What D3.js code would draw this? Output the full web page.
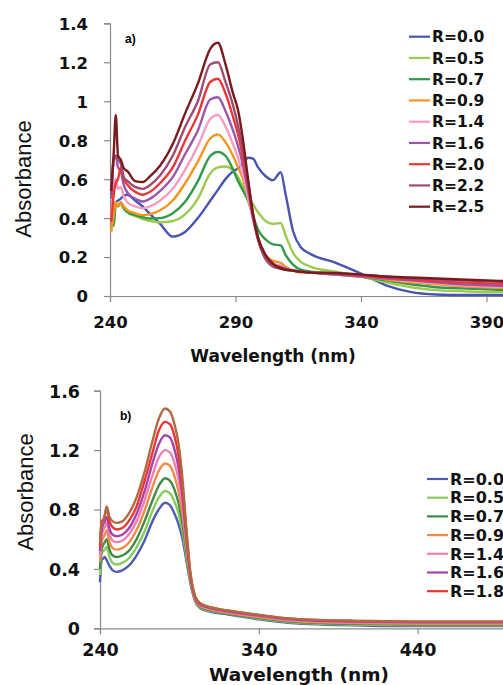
<!DOCTYPE html>
<html>
<head>
<meta charset="utf-8">
<script src="https://cdn.jsdelivr.net/npm/d3@7"></script>
<style>
  html, body { margin: 0; padding: 0; background: #fff; overflow: hidden; }
  svg { display: block; }
</style>
</head>
<body>
<svg id="chart" width="503" height="685"></svg>
<script>
// ---- panel a) ----
const aWavelengths = [240.5, 241.5, 242.3, 243.2, 244.3, 245.5, 247, 250, 253, 256, 260, 265, 270, 275, 280, 283, 286, 289, 291, 293, 295, 297, 299, 302, 305, 308, 310, 313, 316, 320, 330, 340, 350, 360, 370, 380, 390, 400];
const aNames = ["R=0.0", "R=0.5", "R=0.7", "R=0.9", "R=1.4", "R=1.6", "R=2.0", "R=2.2", "R=2.5"];
const aR00 = [0.42, 0.46, 0.48, 0.49, 0.50, 0.515, 0.52, 0.49, 0.46, 0.42, 0.37, 0.305, 0.33, 0.40, 0.49, 0.545, 0.60, 0.64, 0.655, 0.68, 0.71, 0.705, 0.66, 0.615, 0.595, 0.635, 0.52, 0.33, 0.25, 0.215, 0.17, 0.115, 0.055, 0.02, 0.008, 0.005, 0.005, 0.005];
const aR05 = [0.34, 0.45, 0.48, 0.47, 0.475, 0.45, 0.43, 0.41, 0.395, 0.385, 0.378, 0.385, 0.42, 0.50, 0.63, 0.66, 0.665, 0.645, 0.61, 0.56, 0.51, 0.47, 0.43, 0.385, 0.37, 0.375, 0.31, 0.22, 0.175, 0.15, 0.125, 0.10, 0.07, 0.045, 0.03, 0.025, 0.02, 0.02];
const aR07 = [0.37, 0.36, 0.47, 0.46, 0.48, 0.45, 0.43, 0.415, 0.405, 0.398, 0.40, 0.425, 0.485, 0.59, 0.72, 0.74, 0.72, 0.65, 0.59, 0.54, 0.49, 0.41, 0.34, 0.29, 0.265, 0.26, 0.21, 0.16, 0.135, 0.125, 0.115, 0.10, 0.08, 0.06, 0.045, 0.04, 0.035, 0.03];
const aR09 = [0.33, 0.42, 0.48, 0.46, 0.48, 0.46, 0.44, 0.425, 0.415, 0.42, 0.44, 0.49, 0.58, 0.69, 0.81, 0.83, 0.79, 0.72, 0.66, 0.60, 0.50, 0.40, 0.30, 0.21, 0.18, 0.17, 0.15, 0.13, 0.12, 0.12, 0.11, 0.10, 0.085, 0.07, 0.06, 0.05, 0.045, 0.04];
const aR14 = [0.40, 0.58, 0.60, 0.55, 0.56, 0.51, 0.48, 0.46, 0.45, 0.46, 0.49, 0.55, 0.65, 0.77, 0.91, 0.93, 0.87, 0.78, 0.71, 0.62, 0.51, 0.39, 0.29, 0.20, 0.165, 0.155, 0.14, 0.13, 0.125, 0.12, 0.11, 0.10, 0.09, 0.075, 0.065, 0.055, 0.05, 0.045];
const aR16 = [0.50, 0.70, 0.72, 0.66, 0.64, 0.57, 0.53, 0.50, 0.485, 0.50, 0.54, 0.61, 0.73, 0.85, 1.01, 1.02, 0.95, 0.85, 0.77, 0.67, 0.54, 0.40, 0.29, 0.195, 0.16, 0.15, 0.14, 0.13, 0.125, 0.12, 0.11, 0.10, 0.09, 0.08, 0.07, 0.06, 0.055, 0.05];
const aR20 = [0.38, 0.52, 0.58, 0.60, 0.66, 0.60, 0.57, 0.535, 0.52, 0.535, 0.58, 0.66, 0.80, 0.93, 1.10, 1.115, 1.04, 0.92, 0.83, 0.71, 0.57, 0.41, 0.29, 0.19, 0.155, 0.145, 0.135, 0.13, 0.125, 0.12, 0.115, 0.105, 0.095, 0.085, 0.075, 0.07, 0.065, 0.06];
const aR22 = [0.52, 0.70, 0.72, 0.70, 0.68, 0.61, 0.59, 0.56, 0.55, 0.57, 0.62, 0.72, 0.87, 1.00, 1.19, 1.20, 1.10, 0.98, 0.875, 0.75, 0.59, 0.42, 0.29, 0.19, 0.15, 0.14, 0.135, 0.13, 0.125, 0.12, 0.115, 0.11, 0.10, 0.09, 0.085, 0.08, 0.075, 0.07];
const aR25 = [0.54, 0.74, 0.93, 0.72, 0.70, 0.655, 0.64, 0.59, 0.585, 0.615, 0.67, 0.78, 0.94, 1.09, 1.27, 1.30, 1.19, 1.04, 0.955, 0.80, 0.60, 0.42, 0.30, 0.21, 0.165, 0.142, 0.135, 0.13, 0.125, 0.12, 0.118, 0.11, 0.10, 0.095, 0.09, 0.085, 0.08, 0.075];
const aYTicks = [0, 0.2, 0.4, 0.6, 0.8, 1, 1.2, 1.4];
const aXTicks = [240, 290, 340, 390];

// ---- panel b) ----
const bWavelengths = [240, 241, 242, 243, 244.2, 246, 248, 250.5, 254, 258, 263, 268, 273, 277, 281, 284, 287, 289.5, 292, 294.5, 297, 300, 303, 310, 320, 340, 360, 380, 400, 420, 440, 460, 480, 500];
const bNames = ["R=0.0", "R=0.5", "R=0.7", "R=0.9", "R=1.4", "R=1.6", "R=1.8", "R=2.0"];
const bR00 = [0.31, 0.46, 0.47, 0.48, 0.46, 0.42, 0.39, 0.38, 0.39, 0.42, 0.49, 0.59, 0.72, 0.80, 0.845, 0.83, 0.77, 0.70, 0.60, 0.45, 0.30, 0.18, 0.135, 0.11, 0.095, 0.06, 0.035, 0.025, 0.02, 0.015, 0.015, 0.015, 0.015, 0.015];
const bR05 = [0.36, 0.50, 0.52, 0.53, 0.55, 0.48, 0.44, 0.43, 0.44, 0.47, 0.545, 0.65, 0.79, 0.88, 0.925, 0.91, 0.85, 0.77, 0.65, 0.48, 0.31, 0.185, 0.14, 0.115, 0.10, 0.065, 0.04, 0.03, 0.025, 0.022, 0.02, 0.02, 0.02, 0.02];
const bR07 = [0.40, 0.53, 0.56, 0.58, 0.60, 0.53, 0.49, 0.48, 0.49, 0.52, 0.60, 0.72, 0.86, 0.96, 1.01, 0.995, 0.93, 0.84, 0.70, 0.51, 0.32, 0.19, 0.145, 0.12, 0.10, 0.07, 0.045, 0.035, 0.03, 0.028, 0.025, 0.025, 0.025, 0.025];
const bR09 = [0.45, 0.58, 0.61, 0.63, 0.66, 0.58, 0.54, 0.53, 0.54, 0.575, 0.66, 0.79, 0.95, 1.06, 1.11, 1.095, 1.02, 0.92, 0.76, 0.54, 0.33, 0.195, 0.15, 0.125, 0.105, 0.075, 0.05, 0.04, 0.035, 0.032, 0.03, 0.03, 0.03, 0.03];
const bR14 = [0.48, 0.62, 0.66, 0.68, 0.71, 0.63, 0.59, 0.58, 0.59, 0.63, 0.72, 0.86, 1.03, 1.15, 1.20, 1.185, 1.11, 1.00, 0.82, 0.57, 0.34, 0.20, 0.155, 0.13, 0.11, 0.08, 0.055, 0.045, 0.04, 0.037, 0.035, 0.035, 0.035, 0.035];
const bR16 = [0.52, 0.66, 0.70, 0.72, 0.75, 0.67, 0.63, 0.62, 0.63, 0.67, 0.77, 0.92, 1.11, 1.24, 1.30, 1.285, 1.20, 1.08, 0.88, 0.60, 0.35, 0.205, 0.16, 0.135, 0.115, 0.085, 0.06, 0.05, 0.045, 0.042, 0.04, 0.04, 0.04, 0.04];
const bR18 = [0.55, 0.72, 0.73, 0.76, 0.81, 0.72, 0.68, 0.665, 0.675, 0.72, 0.82, 0.99, 1.18, 1.33, 1.39, 1.375, 1.29, 1.16, 0.94, 0.63, 0.36, 0.21, 0.165, 0.14, 0.12, 0.09, 0.065, 0.055, 0.05, 0.047, 0.045, 0.045, 0.045, 0.045];
const bR20 = [0.57, 0.70, 0.72, 0.76, 0.82, 0.75, 0.72, 0.71, 0.72, 0.77, 0.88, 1.05, 1.26, 1.41, 1.48, 1.46, 1.37, 1.24, 1.00, 0.66, 0.37, 0.215, 0.17, 0.14, 0.12, 0.09, 0.065, 0.055, 0.05, 0.047, 0.045, 0.045, 0.045, 0.045];
const bYTicks = [0, 0.4, 0.8, 1.2, 1.6];
const bXTicks = [240, 340, 440];

const aColors = ["#4656b0", "#9acb4c", "#2f9a48", "#f7941e", "#f59cc4", "#9b55aa", "#ee3535", "#9c4d73", "#7a1a1c"];
const bColors = ["#4d5db3", "#88cc5e", "#3f8a47", "#f38a45", "#f27db3", "#a245ad", "#ee3434", "#b06a42"];

const svg = d3.select("#chart");

function drawPanel(p) {
  const x = d3.scaleLinear().domain(p.xDomain).range(p.xRange);
  const y = d3.scaleLinear().domain(p.yDomain).range(p.yRange);
  const g = svg.append("g");

  // axes
  const yAxis = g.append("g")
    .attr("transform", "translate(" + p.xRange[0] + ",0)")
    .call(d3.axisLeft(y).tickValues(p.yTicks).tickSize(6).tickPadding(p.yPad)
      .tickFormat(d => String(+d.toFixed(1))));
  const xAxis = g.append("g")
    .attr("transform", "translate(0," + p.yRange[0] + ")")
    .call(d3.axisBottom(x).tickValues(p.xTicks).tickSize(6).tickPadding(p.xPad)
      .tickFormat(d3.format("d")));
  [xAxis, yAxis].forEach(a => {
    a.select(".domain").attr("stroke", "#8a8a8a").attr("stroke-width", 1.2);
    a.selectAll(".tick line").attr("stroke", "#8a8a8a").attr("stroke-width", 1.2);
    a.selectAll("text")
      .attr("fill", "#111")
      .style("font-family", "'DejaVu Sans', Verdana, sans-serif")
      .style("font-weight", "bold")
      .style("font-size", p.tickFont + "px");
  });
  yAxis.selectAll("text").attr("dy", "0.36em");
  xAxis.selectAll("text").attr("dy", "0.71em");

  // curves
  const line = d3.line()
    .x((d, i) => x(p.wavelengths[i]))
    .y(d => y(d))
    .curve(d3.curveMonotoneX);
  p.series.forEach((s, i) => {
    g.append("path")
      .attr("d", line(s))
      .attr("fill", "none")
      .attr("stroke", p.colors[i])
      .attr("stroke-width", 2.4)
      .attr("stroke-linejoin", "round");
  });

  // panel tag
  g.append("text")
    .attr("x", p.tag[1]).attr("y", p.tag[2])
    .style("font-family", "'Liberation Sans', Arial, sans-serif")
    .style("font-weight", "bold").style("font-size", "12px")
    .text(p.tag[0]);

  // axis titles
  g.append("text")
    .attr("transform", "translate(" + p.yTitle[0] + "," + p.yTitle[1] + ") rotate(-90)")
    .attr("text-anchor", "middle")
    .style("font-family", "'Liberation Sans', Arial, sans-serif")
    .style("font-size", p.yTitleFont + "px")
    .attr("fill", "#111")
    .text("Absorbance");
  g.append("text")
    .attr("x", p.xTitle[0]).attr("y", p.xTitle[1])
    .attr("text-anchor", "middle")
    .style("font-family", "'DejaVu Sans', Verdana, sans-serif")
    .style("font-weight", "bold")
    .style("font-size", p.xTitleFont + "px")
    .attr("fill", "#111")
    .text("Wavelength (nm)");

  // legend
  const leg = g.append("g");
  p.legendNames.forEach((name, i) => {
    const ly = p.legend.y + i * p.legend.step;
    leg.append("line")
      .attr("x1", p.legend.x).attr("x2", p.legend.x + 21)
      .attr("y1", ly).attr("y2", ly)
      .attr("stroke", p.colors[i]).attr("stroke-width", 2.2);
    leg.append("text")
      .attr("x", p.legend.x + 23).attr("y", ly).attr("dy", "0.36em")
      .style("font-family", "'DejaVu Sans', Verdana, sans-serif")
      .style("font-weight", "bold")
      .style("font-size", p.legend.font + "px")
      .attr("fill", "#111")
      .text(name);
  });
}

drawPanel({
  wavelengths: aWavelengths,
  series: [aR00, aR05, aR07, aR09, aR14, aR16, aR20, aR22, aR25],
  colors: aColors,
  legendNames: aNames,
  xDomain: [240, 400], xRange: [110, 511.6],
  yDomain: [0, 1.4], yRange: [296, 23.3],
  xTicks: aXTicks, yTicks: aYTicks,
  xPad: 14, yPad: 16, tickFont: 16.5,
  tag: ["a)", 125, 43],
  yTitle: [31, 179], yTitleFont: 22,
  xTitle: [273, 362], xTitleFont: 17,
  legend: { x: 409, y: 36.7, step: 21.25, font: 15.5 }
});

// panel b): the 8th (top, brown) curve has no visible legend entry in the figure
drawPanel({
  wavelengths: bWavelengths,
  series: [bR00, bR05, bR07, bR09, bR14, bR16, bR18, bR20],
  colors: bColors,
  legendNames: bNames.slice(0, 7),
  xDomain: [240, 500], xRange: [100, 512.9],
  yDomain: [0, 1.6], yRange: [628.3, 390.7],
  xTicks: bXTicks, yTicks: bYTicks,
  xPad: 9, yPad: 14, tickFont: 17.5,
  tag: ["b)", 120, 420],
  yTitle: [33, 492], yTitleFont: 22,
  xTitle: [299, 681], xTitleFont: 18.5,
  legend: { x: 427, y: 479, step: 18.7, font: 16 }
});
</script>
</body>
</html>
